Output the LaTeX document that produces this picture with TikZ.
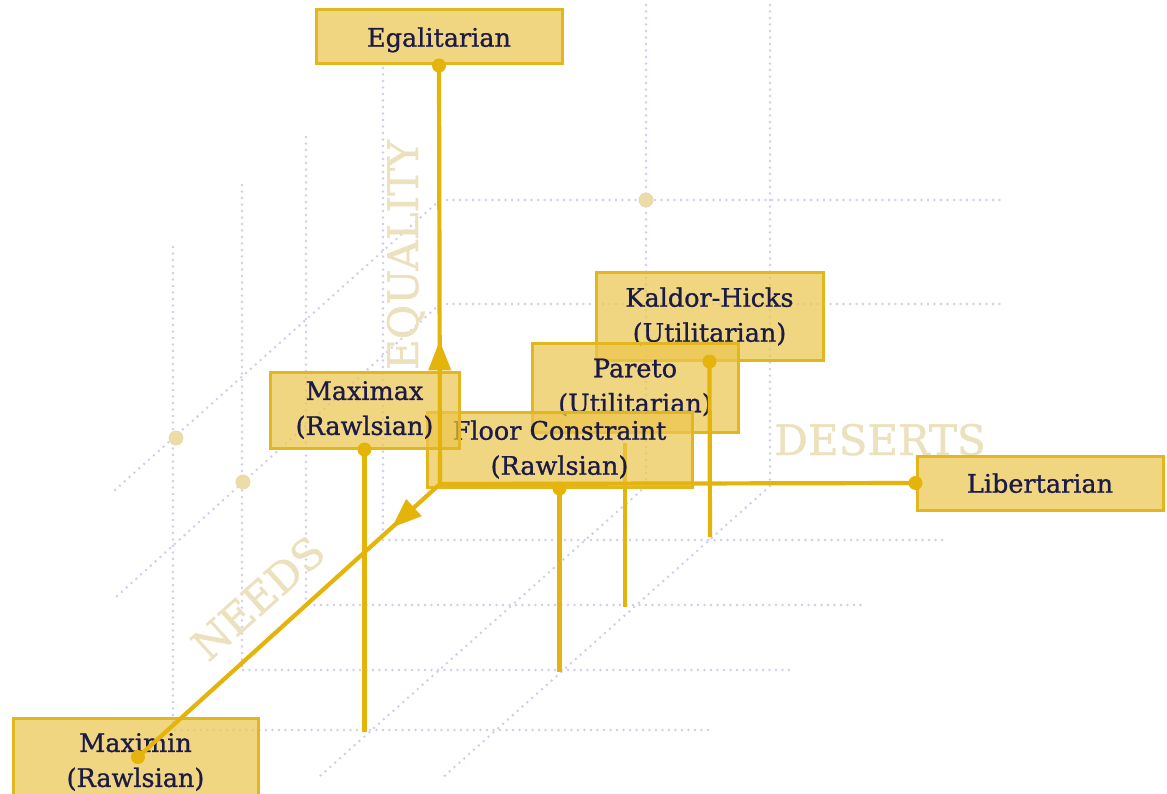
\documentclass[tikz,border=0pt]{standalone}
\usepackage{fontspec}
\usetikzlibrary{arrows.meta,decorations.markings}
\newfontfamily\labelfont{DejaVu Serif}[RawFeature={embolden=0.9}]
\definecolor{boxfill}{RGB}{236,198,76}
\definecolor{boxedge}{RGB}{226,182,30}
\definecolor{linec}{RGB}{228,180,10}
\definecolor{ink}{RGB}{28,26,70}
\definecolor{gridc}{RGB}{206,206,236}
\definecolor{markc}{RGB}{235,225,188}
\definecolor{knot}{RGB}{237,220,165}
\begin{document}
\begin{tikzpicture}[x=1pt,y=-1pt,
  gridline/.style={draw=gridc, line width=2.8pt, line cap=round, dash pattern=on 0pt off 6.5pt},
  axisword/.style={text=markc, font=\labelfont\fontsize{42}{42}\selectfont, inner sep=0pt},
  knotdot/.style={fill=knot, draw=knot!80!gridc, line width=0.8pt},
  box/.style={rectangle, draw=boxedge, line width=3pt, fill=boxfill, fill opacity=0.7,
    text opacity=1, text=ink, align=center, inner sep=0pt,
    font=\labelfont\fontsize{25.5}{35}\selectfont},
  onebox/.style={box, minimum width=246, minimum height=54, text depth=0pt},
  conn/.style={draw=linec, line width=4.2pt},
  tipmark/.style={postaction={decorate, decoration={markings,
    mark=at position #1 with {\arrow[linec]{Triangle[width=22pt,length=30pt]}}}}}
]
\useasboundingbox (0,0) rectangle (1167,794);
\fill[white] (0,0) rectangle (1167,794);

% back wall of the value space
\draw[gridline] (447,200) -- (1000,200);
\draw[gridline] (447,304) -- (1000,304);
\draw[gridline] (646,5) -- (646,480);
\draw[gridline] (770,5) -- (770,480);
% side wall
\draw[gridline] (173,247) -- (173,728);
\draw[gridline] (242,185) -- (242,668);
\draw[gridline] (306,137) -- (306,605);
\draw[gridline] (383,68) -- (383,540);
\draw[gridline] (440,200) -- (115,490);
\draw[gridline] (440,304) -- (115,598);
% floor
\draw[gridline] (383,540) -- (945,540);
\draw[gridline] (308,605) -- (866,605);
\draw[gridline] (243,670) -- (793,670);
\draw[gridline] (175,730) -- (709,730);
\draw[gridline] (646,486) -- (320,776);
\draw[gridline] (770,486) -- (440,780);
% grid knots
\fill[knotdot] (176,438) circle (7);
\fill[knotdot] (243,482) circle (7);
\fill[knotdot] (646,200) circle (7);

% axis names
\node[axisword, rotate=90, anchor=base] (eqword) at (418,255) {EQUALITY};
\node[axisword, anchor=base] (desword) at (880,455) {DESERTS};
\node[axisword, rotate=41.8] (needword) at (258,598) {NEEDS};

% principles
\node[onebox] (egal) at (439,37) {Egalitarian};
\node[box, minimum width=227, minimum height=87] (kaldor) at (709.5,316.5) {Kaldor-Hicks\\(Utilitarian)};
\node[box, minimum width=206, minimum height=89] (pareto) at (635,387.5) {Pareto\\(Utilitarian)};
\coordinate (paretotop) at (625,443);
\coordinate (paretofoot) at (625,607);
\draw[conn] (paretotop) -- (paretofoot);
\node[box, minimum width=265, minimum height=75] (floor) at (559.5,449.5) {Floor Constraint\\(Rawlsian)};
\node[box, minimum width=189, minimum height=76] (maximax) at (364.5,410) {Maximax\\(Rawlsian)};
\node[onebox] (lib) at (1040,483) {Libertarian};
\node[box, minimum width=245, minimum height=88] (maximin) at (135.5,762) {Maximin\\(Rawlsian)};
\coordinate (maximinpin) at (138,757);

% axes
\coordinate (O) at (440,484);
\draw[conn, tipmark=0.343] (O) -- (egal.south);
\draw[conn] (O) -- (lib.west);
\draw[conn, tipmark=0.16] (O) -- (maximinpin);

% drop lines to the floor
\coordinate (kaldorfoot) at (710,537);
\coordinate (floorfoot) at (559.5,672);
\coordinate (maximaxfoot) at (364.5,732);
\draw[conn] (kaldor.south) -- (kaldorfoot);
\draw[conn] (floor.south) -- (floorfoot);
\draw[conn] (maximax.south) -- (maximaxfoot);

% anchor dots
\foreach \p in {egal.south, lib.west, maximinpin, kaldor.south, floor.south, maximax.south}
  \fill[linec] (\p) circle (7);
\end{tikzpicture}
\end{document}
